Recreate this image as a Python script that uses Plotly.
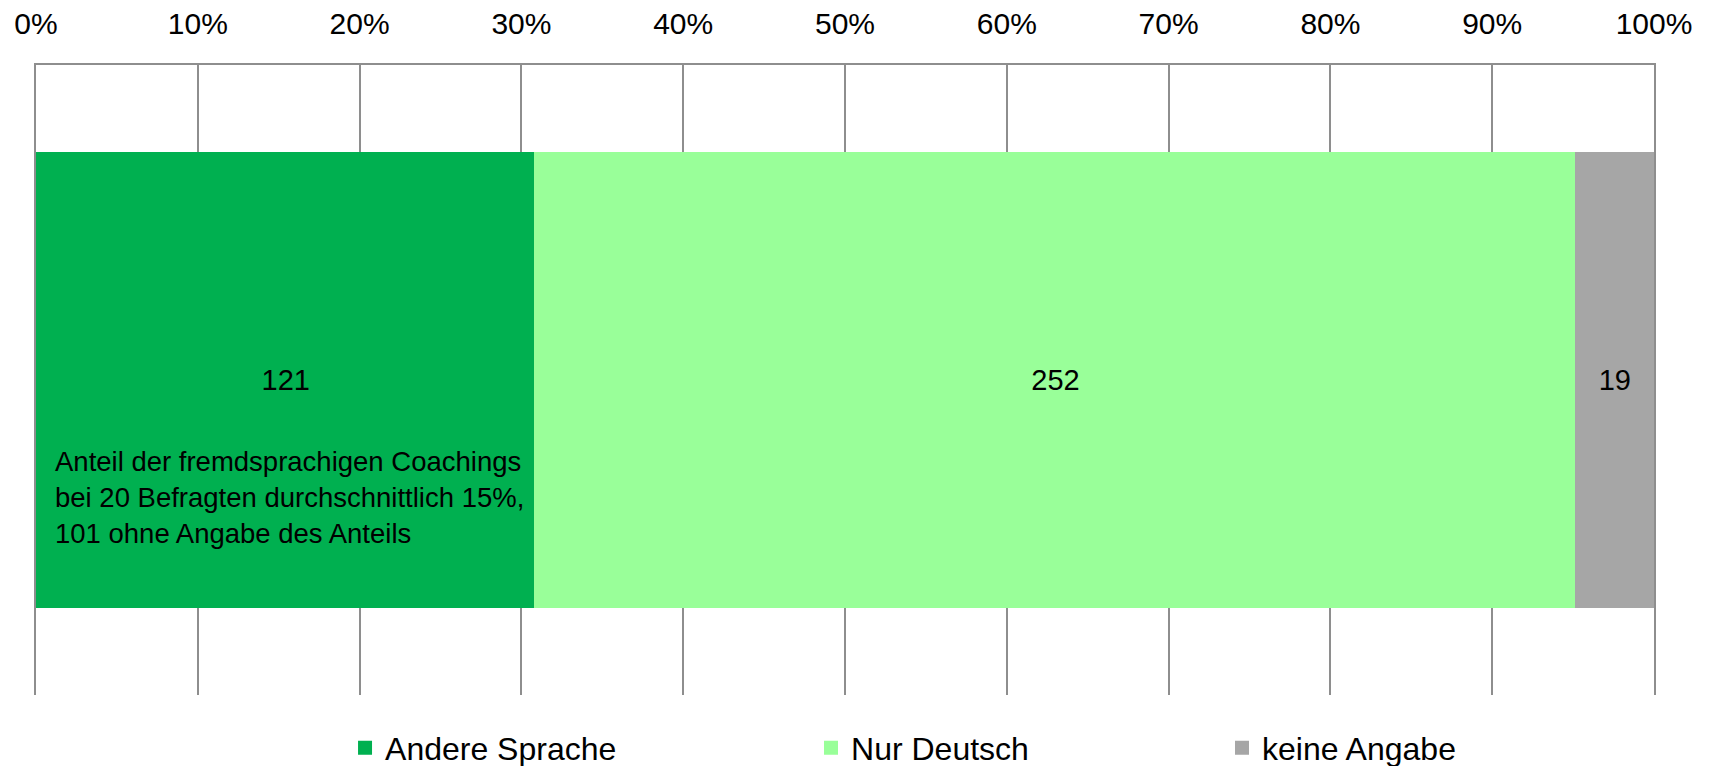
import plotly.graph_objects as go

# Data
categories = ["Fremdsprachige Coachings"]
series_names = ["Andere Sprache", "Nur Deutsch", "keine Angabe"]
series_values = [121, 252, 19]
series_colors = ["#00B050", "#99FF99", "#A6A6A6"]
tick_values = [0, 10, 20, 30, 40, 50, 60, 70, 80, 90, 100]
tick_labels = ["0%", "10%", "20%", "30%", "40%", "50%", "60%", "70%", "80%", "90%", "100%"]
note_text = ("Anteil der fremdsprachigen Coachings<br>"
             "bei 20 Befragten durchschnittlich 15%,<br>"
             "101 ohne Angabe des Anteils")

FONT = "Liberation Sans, Arial, Helvetica, sans-serif"
legend_ids = ["legend", "legend2", "legend3"]
legend_x = [0.191, 0.479, 0.733]

fig = go.Figure()
for name, val, col, lid in zip(series_names, series_values, series_colors, legend_ids):
    fig.add_trace(go.Bar(
        y=categories, x=[val], name=name, orientation="h",
        marker=dict(color=col, line=dict(width=2, color=col)),
        text=[str(val)], textposition="inside", insidetextanchor="middle",
        textangle=0, constraintext="none",
        textfont=dict(family=FONT, size=29, color="#000000"),
        legend=lid,
    ))

leg_common = dict(orientation="h", yanchor="middle", y=-0.084, xanchor="left",
                  font=dict(family=FONT, size=32, color="#000000"),
                  bgcolor="rgba(0,0,0,0)", borderwidth=0)

fig.update_layout(
    width=1713, height=766,
    margin=dict(l=36, r=59, t=65, b=71, autoexpand=False),
    paper_bgcolor="#FFFFFF", plot_bgcolor="#FFFFFF",
    barmode="stack", barnorm="percent", bargap=0.28,
    font=dict(family=FONT, color="#000000"),
    showlegend=True,
    legend=dict(x=legend_x[0], **leg_common),
    legend2=dict(x=legend_x[1], **leg_common),
    legend3=dict(x=legend_x[2], **leg_common),
    xaxis=dict(
        range=[0, 100], side="top", tickvals=tick_values, ticktext=tick_labels,
        showgrid=True, gridcolor="#8e8e8e", gridwidth=1.5,
        showline=True, linecolor="#8e8e8e", linewidth=1.5,
        zeroline=False, ticks="", tickfont=dict(family=FONT, size=30, color="#000000"),
        ticklabelstandoff=17, fixedrange=True, automargin=False,
    ),
    yaxis=dict(
        showticklabels=False, showgrid=False, zeroline=False, ticks="",
        showline=True, mirror=True, linecolor="#8e8e8e", linewidth=1.5,
        automargin=False, fixedrange=True,
    ),
    annotations=[dict(
        text=note_text, xref="paper", yref="paper",
        x=(53 - 36) / 1618, y=(695 - 497) / 630, xanchor="left", yanchor="middle",
        align="left", showarrow=False,
        font=dict(family=FONT, size=27.5, color="#000000"),
    )],
)

fig.write_html("out.html",
               config={"displayModeBar": False},
               post_script="document.body.style.margin='0';document.body.style.padding='0';")
